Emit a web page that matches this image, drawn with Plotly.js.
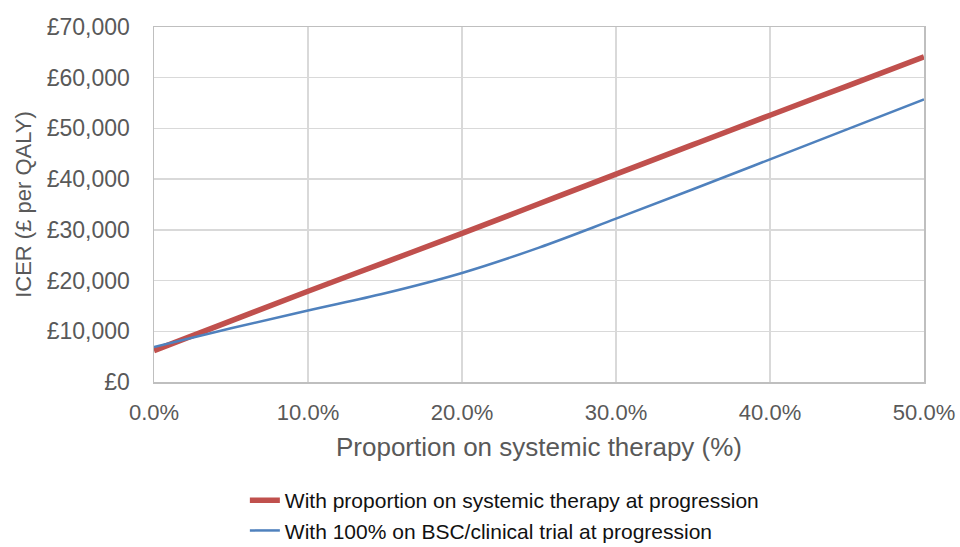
<!DOCTYPE html>
<html>
<head>
<meta charset="utf-8">
<script src="https://cdn.plot.ly/plotly-3.0.1.min.js"></script>
<style>html,body{margin:0;padding:0;background:#fff;}#chart{width:960px;height:547px;}</style>
</head>
<body>
<div id="chart"></div>
<script>
// Proportion on systemic therapy (%)
const proportion = [0, 5, 10, 15, 20, 25, 30, 35, 40, 45, 50];
// ICER (£ per QALY)
const withProportionSystemic = [6200, 12050, 17900, 23600, 29300, 35150, 41000, 46800, 52600, 58350, 64100];
const with100BSC = [6900, 10600, 14100, 17500, 21500, 26500, 32200, 38000, 43900, 49800, 55700];
const seriesNames = ["With proportion on systemic therapy at progression", "With 100% on BSC/clinical trial at progression"];
const xTickVals = [0, 10, 20, 30, 40, 50];
const yTickVals = [0, 10000, 20000, 30000, 40000, 50000, 60000, 70000];

const xTickText = xTickVals.map(v => v.toFixed(1) + "%");
const yTickText = yTickVals.map(v => "£" + v.toLocaleString("en-GB"));

const font = "Liberation Sans, Arial, sans-serif";
const gray = "#595959";

const traces = [
  {x: proportion, y: withProportionSystemic, name: seriesNames[0], mode: "lines", legendgroup: "a",
   line: {color: "#C0504D", width: 5.5, shape: "spline"}},
  {x: proportion, y: with100BSC, name: seriesNames[1], mode: "lines", legendgroup: "b",
   line: {color: "#4F81BD", width: 2.5, shape: "spline"}}
];

const layout = {
  width: 960, height: 547,
  margin: {l: 154, r: 36, t: 27, b: 165},
  paper_bgcolor: "#fff", plot_bgcolor: "#fff",
  font: {family: font, color: gray, size: 18},
  showlegend: true,
  legend: {xref: "paper", yref: "container", x: 0.118, xanchor: "left", y: 0.1225, yanchor: "top",
           orientation: "v", traceorder: "normal",
           font: {family: font, size: 21, color: "#111"}, bgcolor: "rgba(0,0,0,0)", tracegroupgap: 18},
  xaxis: {
    range: [0, 50], tickmode: "array", tickvals: xTickVals, ticktext: xTickText, tickangle: 0,
    showgrid: true, gridcolor: "#d9d9d9", gridwidth: 1.5,
    showline: true, linecolor: "#bfbfbf", linewidth: 1.5, mirror: true,
    zeroline: false, ticks: "", ticklabelstandoff: 10, tickfont: {size: 22, color: gray},
    title: {text: "Proportion on systemic therapy (%)", font: {size: 26, color: gray}, standoff: 14}
  },
  yaxis: {
    range: [0, 70000], tickmode: "array", tickvals: yTickVals, ticktext: yTickText,
    showgrid: true, gridcolor: "#d9d9d9", gridwidth: 1.5,
    showline: true, linecolor: "#bfbfbf", linewidth: 1.5, mirror: true,
    zeroline: false, ticks: "", ticklabelstandoff: 18, tickfont: {size: 23, color: gray},
    title: {text: "ICER (£ per QALY)", font: {size: 22, color: gray}, standoff: 9}
  }
};

Plotly.newPlot("chart", traces, layout, {displayModeBar: false, staticPlot: true});
</script>
</body>
</html>
